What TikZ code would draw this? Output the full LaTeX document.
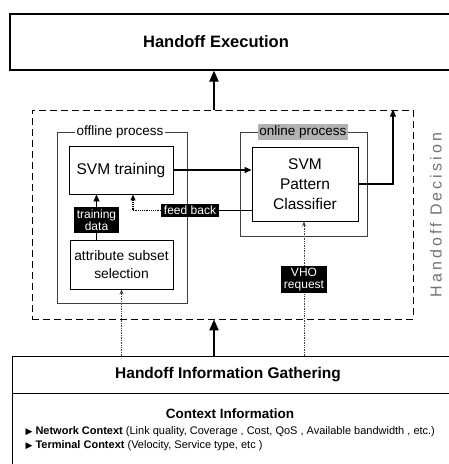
\documentclass[tikz,border=0pt]{standalone}
\usepackage{fontspec}
\setmainfont{Liberation Sans}
\newfontfamily\symfont{DejaVu Sans}
\usetikzlibrary{arrows.meta,positioning}
\tikzset{
  bigbox/.style={draw, line width=1.1pt},
  procbox/.style={draw, line width=0.9pt, align=center, inner sep=0pt, font=\fontsize{15.5}{20}\selectfont},
  groupbox/.style={draw=black!75, line width=0.8pt},
  grouplabel/.style={inner sep=1.5pt, font=\fontsize{13.5}{16}\selectfont},
  tag/.style={fill=black, text=white, align=center, inner xsep=3pt, inner ysep=2pt, font=\fontsize{12}{12.5}\selectfont},
  bigarrow/.style={line width=2pt, -{Triangle[length=11pt,width=9pt]}},
  flow/.style={line width=1.1pt, -{Triangle[length=7pt,width=6pt]}},
  feed/.style={densely dotted, line width=1.2pt, -{Triangle[length=6pt,width=5pt]}},
  hint/.style={densely dotted, draw=black!75, line width=0.7pt, -{Stealth[open,length=5pt,width=4pt]}},
}
\begin{document}
\begin{tikzpicture}[x=1pt,y=-1pt]
    \useasboundingbox (0,0) rectangle (448,464);
    %% execution
    \node[bigbox, minimum width=460pt, minimum height=56pt] (exec) at (240,42) {};
    \node[font=\bfseries\fontsize{16.5}{18}\selectfont] (exectitle) at (216,42) {Handoff Execution};
    %% decision
    \node[draw, line width=0.8pt, dash pattern=on 7pt off 4pt, minimum width=381pt, minimum height=209pt] (decision) at (222.5,214.5) {};
    \node[rotate=90, text=black!55, font=\fontsize{16}{18}\selectfont\addfontfeature{LetterSpace=19}] (dectitle) at (436,215) {Handoff Decision};
    %% offline and online process
    \node[groupbox, minimum width=130pt, minimum height=171pt] (offline) at (122,217.5) {};
    \node[groupbox, minimum width=127pt, minimum height=104pt] (online) at (303.5,184) {};
    \node[grouplabel, fill=white] (offlinelabel) at (120,132) {offline process};
    \node[grouplabel, fill=black!30] (onlinelabel) at (303,132) {online process};
    \node[procbox, minimum width=104pt, minimum height=48pt] (train) at (121,170) {SVM training};
    \node[procbox, minimum width=103pt, minimum height=49pt, font=\fontsize{13.8}{18}\selectfont] (attr) at (121.5,264.5) {attribute subset\\selection};
    \node[procbox, minimum width=106pt, minimum height=74pt] (cls) at (305,184) {SVM\\Pattern\\Classifier};
    %% information gathering
    \node[bigbox, minimum width=460pt, minimum height=130pt, anchor=north west] (info) at (12,356) {};
    \draw[line width=0.9pt] (12,393) -- (info.east |- 0,393);
    \node[font=\bfseries\fontsize{15.5}{18}\selectfont] (infotitle) at (228,375) {Handoff Information Gathering};
    \node[font=\bfseries\fontsize{13.5}{16}\selectfont] (ctxtitle) at (230,414) {Context Information};
    \node[anchor=west, font=\fontsize{11}{13}\selectfont] (net) at (22,432) {{\symfont\fontsize{9}{9}\selectfont ▶}\ \textbf{Network Context}\ (Link quality, Coverage , Cost, QoS , Available bandwidth , etc.)};
    \node[anchor=west, font=\fontsize{11}{13}\selectfont] (term) at (22,446) {{\symfont\fontsize{9}{9}\selectfont ▶}\ \textbf{Terminal Context}\ (Velocity, Service type, etc )};
    %% tags
    \node[tag] (trdata) at (96.5,220) {training\\data};
    \node[tag] (fb) at (190,210.5) {feed back};
    \node[tag] (vho) at (304,279.5) {VHO\\request};
    %% connectors
    \coordinate (mid) at (214,0);
    \coordinate (out) at (393,0);
    \coordinate (back) at (133,0);
    \draw[bigarrow] (decision.north -| mid) -- (exec.south -| mid);
    \draw[bigarrow] (info.north -| mid) -- (decision.south -| mid);
    \draw[flow] (train.east) -- (train.east -| cls.west);
    \draw[flow] (cls.east) -| (decision.north -| out);
    \draw[line width=1.3pt] (cls.west |- fb) -- (fb.east);
    \draw[feed] (fb.west) -| (train.south -| back);
    \draw[line width=0.9pt] (attr.north -| trdata) -- (trdata.south);
    \draw[flow, line width=0.9pt] (trdata.north) -- (train.south -| trdata);
    \draw[hint] (info.north -| attr) -- (attr.south);
    \draw[densely dotted, draw=black!75, line width=0.7pt] (info.north -| vho) -- (vho.south);
    \draw[hint] (vho.north) -- (cls.south -| vho);
\end{tikzpicture}
\end{document}
